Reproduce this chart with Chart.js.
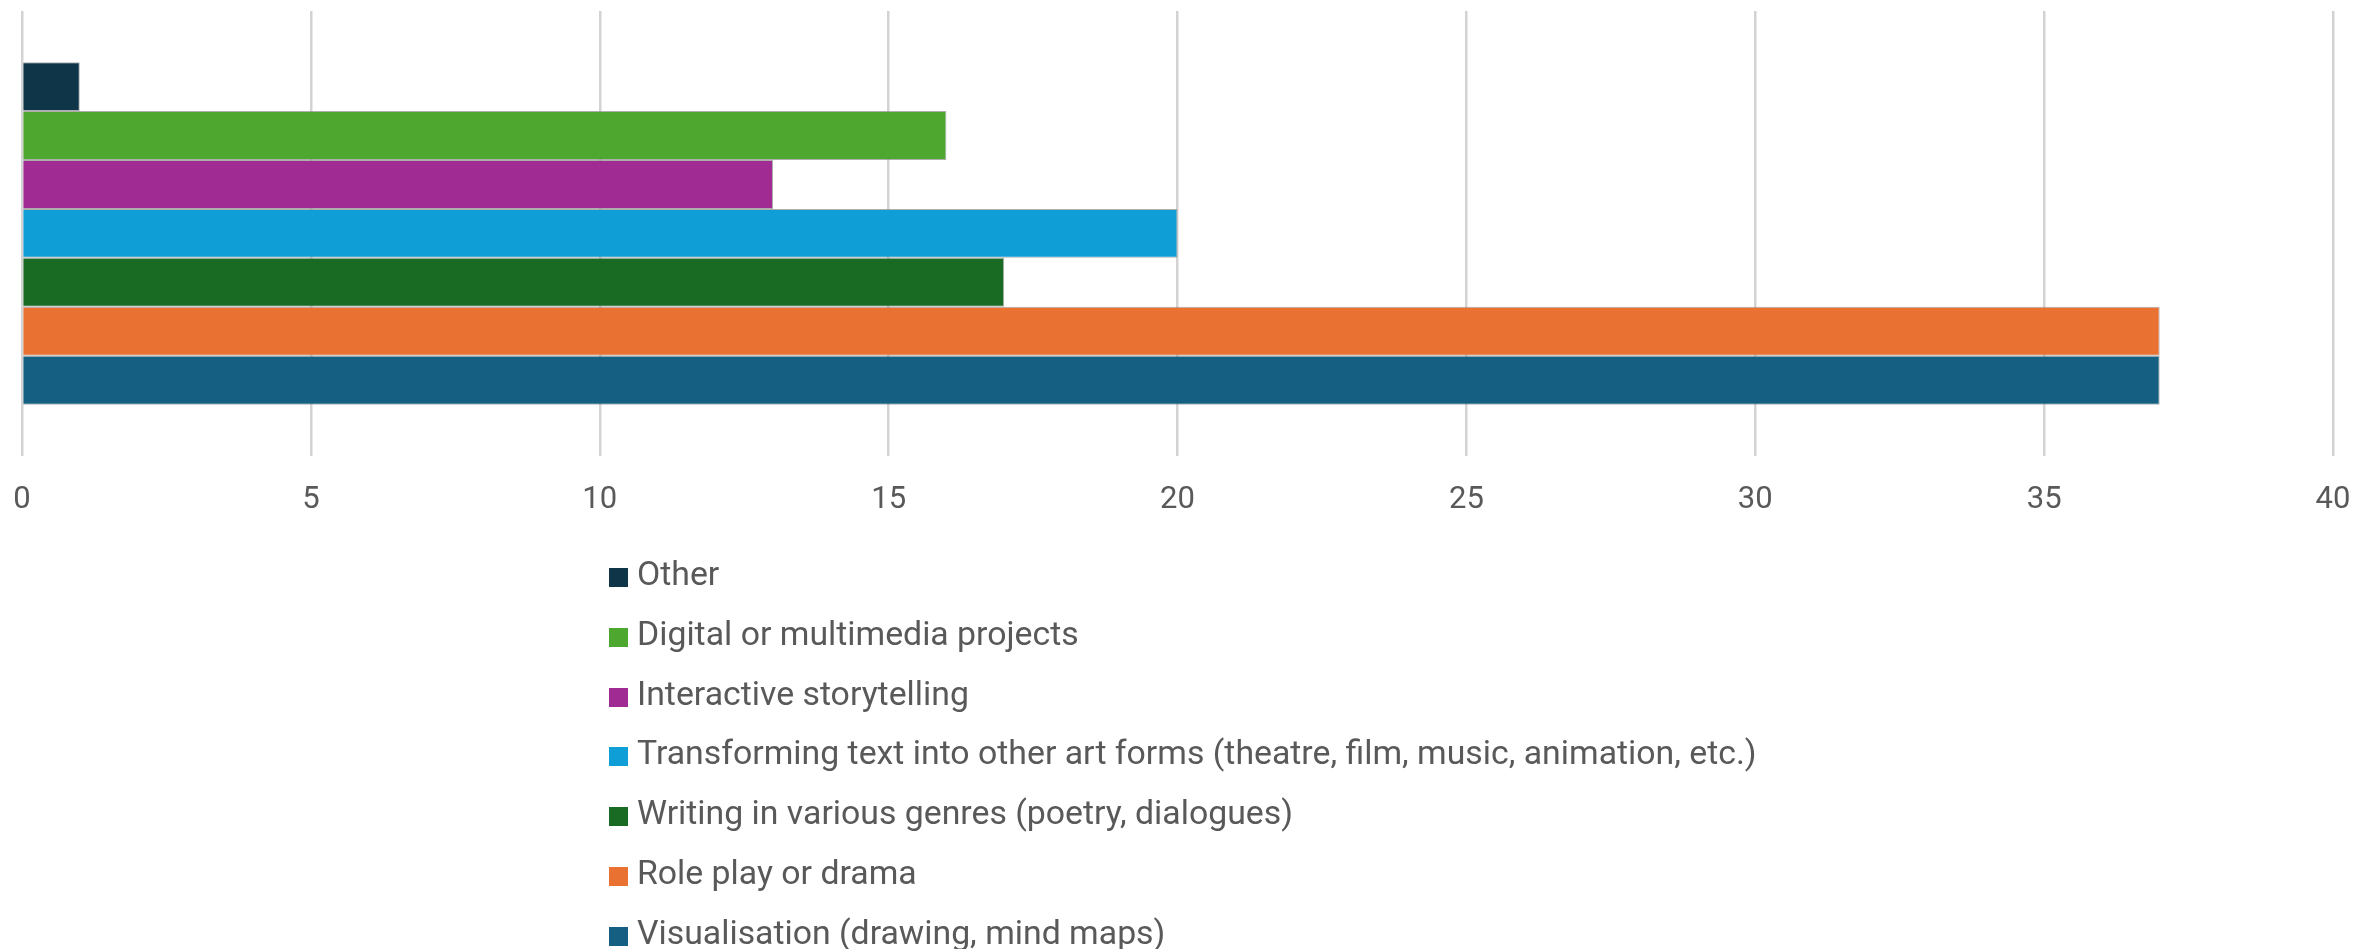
<!DOCTYPE html>
<html>
<head>
<meta charset="utf-8">
<script src="https://cdn.jsdelivr.net/npm/chart.js@4.4.1/dist/chart.umd.min.js"></script>
<style>
  html, body { margin: 0; padding: 0; background: #ffffff; }
  #wrap { position: relative; width: 2377px; height: 949px; }
  #grafico { position: absolute; left: 0; top: 0; }
  #leyenda { position: absolute; left: 609px; top: 554px; font-family: Roboto, sans-serif; font-size: 33.8px; color: #595959; }
  .item { height: 59.8px; display: flex; align-items: flex-start; white-space: nowrap; }
  .caja { width: 19px; height: 19px; margin-right: 9px; margin-top: 14px; }
</style>
</head>
<body>
<div id="wrap">
  <canvas id="grafico" width="2377" height="949"></canvas>
  <div id="leyenda"></div>
</div>
<script>
// categorías (una por serie, en el orden de arriba hacia abajo)
const series = [
    'Other',
    'Digital or multimedia projects',
    'Interactive storytelling',
    'Transforming text into other art forms (theatre, film, music, animation, etc.)',
    'Writing in various genres (poetry, dialogues)',
    'Role play or drama',
    'Visualisation (drawing, mind maps)'
];
const valores = [1, 16, 13, 20, 17, 37, 37];
const colores = ['#0e3548', '#4ea72e', '#a02b93', '#0f9ed5', '#196b24', '#e97132', '#156082'];
const ticksX = [0, 5, 10, 15, 20, 25, 30, 35, 40];

const datasets = series.map((nombre, i) => ({
    label: nombre,
    data: [valores[i]],
    backgroundColor: colores[i],
    borderColor: 'rgba(140,140,140,0.7)',
    borderWidth: 1,
    barPercentage: 1,
    categoryPercentage: 0.77
}));

const ctx = document.getElementById('grafico').getContext('2d');
const chart = new Chart(ctx, {
    type: 'bar',
    data: { labels: [''], datasets: datasets },
    options: {
        indexAxis: 'y',
        responsive: false,
        animation: false,
        layout: { padding: { left: 22, right: 44, top: 11, bottom: 430 } },
        plugins: { legend: { display: false }, tooltip: { enabled: false } },
        scales: {
            x: {
                min: 0, max: 40,
                afterBuildTicks: (axis) => { axis.ticks = ticksX.map(v => ({ value: v })); },
                // marcas invisibles: solo sirven para separar las etiquetas del área
                grid: { color: '#d3d3d3', lineWidth: 2.5, drawTicks: true, tickLength: 26, tickColor: 'rgba(0,0,0,0)' },
                border: { display: false },
                ticks: { color: '#595959', font: { family: 'Roboto', size: 31 }, padding: 0 }
            },
            y: { display: false }
        }
    }
});

// leyenda en una columna debajo del gráfico
const leyenda = document.getElementById('leyenda');
chart.data.datasets.forEach(ds => {
    const fila = document.createElement('div');
    fila.className = 'item';
    const caja = document.createElement('span');
    caja.className = 'caja';
    caja.style.background = ds.backgroundColor;
    const txt = document.createElement('span');
    txt.textContent = ds.label;
    fila.appendChild(caja);
    fila.appendChild(txt);
    leyenda.appendChild(fila);
});
</script>
</body>
</html>
